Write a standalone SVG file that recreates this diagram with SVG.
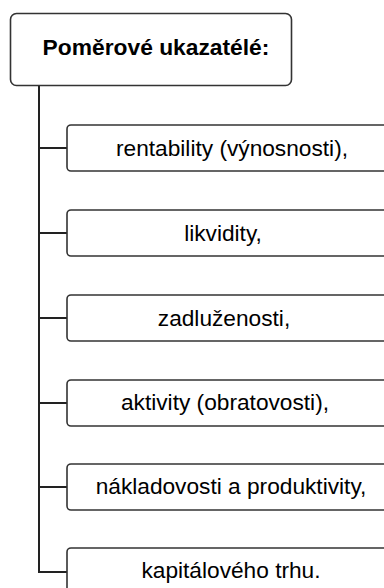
<svg xmlns="http://www.w3.org/2000/svg" width="384" height="588" viewBox="0 0 384 588">
<style>
.box{fill:#fff;stroke:#333;stroke-width:1.6}
.conn{fill:none;stroke:#222;stroke-width:2}
.t{font-family:"Liberation Sans",Arial,sans-serif;font-size:22.7px;fill:#000;text-anchor:middle}
.title{font-weight:bold;font-size:22.8px}
</style>
<rect width="384" height="588" fill="#fff"/>
<g id="connectors">
<path class="conn" d="M39,85 V572 H67"/>
<path class="conn" d="M39,148 H67 M39,233 H67 M39,318 H67 M39,403 H67 M39,487 H67"/>
</g>
<g id="root">
<rect class="box" x="10.5" y="13.5" width="281" height="72" rx="6"/>
<text class="t title" x="156" y="55">Poměrové ukazatélé:</text>
</g>
<g id="n1">
<rect class="box" x="67" y="125" width="340" height="46" rx="4"/>
<text class="t" x="232" y="156">rentability (výnosnosti),</text>
</g>
<g id="n2">
<rect class="box" x="67" y="210" width="340" height="46" rx="4"/>
<text class="t" x="223" y="241">likvidity,</text>
</g>
<g id="n3">
<rect class="box" x="67" y="295" width="340" height="46" rx="4"/>
<text class="t" x="224" y="326">zadluženosti,</text>
</g>
<g id="n4">
<rect class="box" x="67" y="380" width="340" height="46" rx="4"/>
<text class="t" x="225" y="410">aktivity (obratovosti),</text>
</g>
<g id="n5">
<rect class="box" x="67" y="464" width="340" height="46" rx="4"/>
<text class="t" x="231" y="494">nákladovosti a produktivity,</text>
</g>
<g id="n6">
<rect class="box" x="67" y="548" width="340" height="46" rx="4"/>
<text class="t" x="231" y="578">kapitálového trhu.</text>
</g>
</svg>
